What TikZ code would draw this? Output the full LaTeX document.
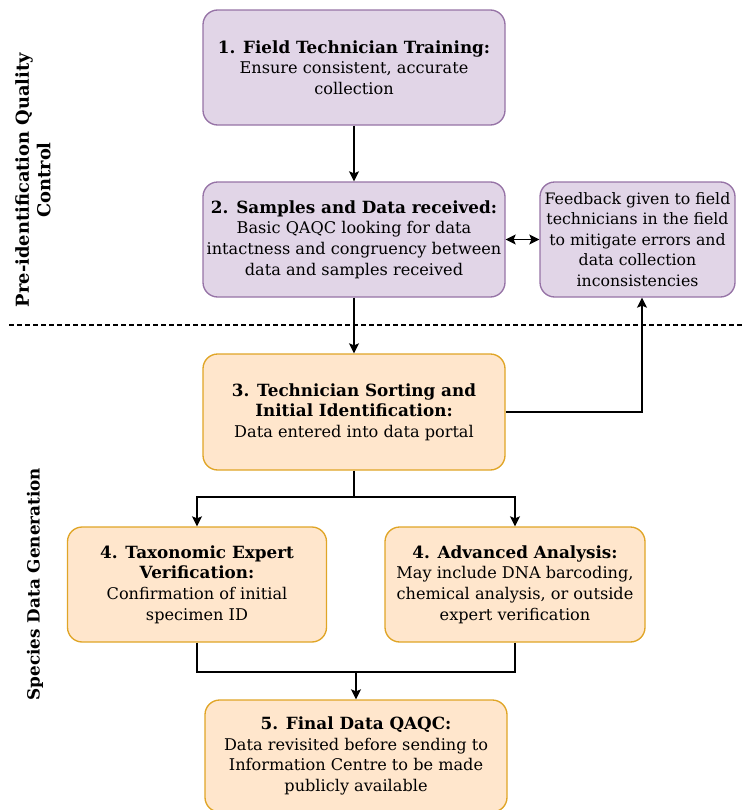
\documentclass[tikz,border=0pt]{standalone}
\usepackage{fontspec}
\setmainfont{DejaVu Serif}
\usetikzlibrary{arrows.meta}
\definecolor{lilacFill}{HTML}{E1D5E7}
\definecolor{lilacLine}{HTML}{9673A6}
\definecolor{peachFill}{HTML}{FFE6CC}
\definecolor{peachLine}{HTML}{E0A526}
\newcommand{\steptitle}[1]{{\fontsize{12.6}{15.4}\selectfont\bfseries #1}}
\begin{document}
\begin{tikzpicture}[x=0.75pt,y=-0.75pt,
  box/.style={draw, rounded corners=11pt, line width=1pt, align=center,
    inner sep=0pt, font=\fontsize{12.1}{15.4}\selectfont},
  lilacbox/.style={box, fill=lilacFill, draw=lilacLine},
  peachbox/.style={box, fill=peachFill, draw=peachLine},
  conn/.style={line width=0.9pt, -{Stealth[length=7.5pt,width=7.5pt,inset=1.5pt]}},
  plain/.style={line width=0.9pt},
  phase/.style={rotate=90, align=center, font=\bfseries}]
\useasboundingbox (0,0) rectangle (744,810);

% Pre-identification stage
\node[lilacbox, minimum width=226.5pt, minimum height=86.25pt] (train) at (354,67.5)
  {\steptitle{1. Field Technician Training:}\\Ensure consistent, accurate\\collection};
\node[lilacbox, minimum width=226.5pt, minimum height=86.25pt] (recv) at (354,239.5)
  {\steptitle{2. Samples and Data received:}\\Basic QAQC looking for data\\intactness and congruency between\\data and samples received};
\node[lilacbox, minimum width=146.25pt, minimum height=86.25pt, font=\fontsize{11.8}{15.4}\selectfont] (feed) at (637.5,239.5)
  {Feedback given to field\\technicians in the field\\to mitigate errors and\\data collection\\inconsistencies};

% Species data stage
\node[peachbox, minimum width=226.5pt, minimum height=87pt] (sort) at (354,412)
  {\steptitle{3. Technician Sorting and}\\\steptitle{Initial Identification:}\\Data entered into data portal};
\node[peachbox, minimum width=194.25pt, minimum height=86.25pt] (taxo) at (197,584.5)
  {\steptitle{4. Taxonomic Expert}\\\steptitle{Verification:}\\Confirmation of initial\\specimen ID};
\node[peachbox, minimum width=195pt, minimum height=86.25pt] (adv) at (515,584.5)
  {\steptitle{4. Advanced Analysis:}\\May include DNA barcoding,\\chemical analysis, or outside\\expert verification};
\node[peachbox, minimum width=226.5pt, minimum height=84pt] (final) at (356,756)
  {\steptitle{5. Final Data QAQC:}\\Data revisited before sending to\\Information Centre to be made\\publicly available};

% Phase labels and divider
\node[phase, font=\fontsize{13.4}{16}\selectfont\bfseries] (lblpre) at (33,180) {Pre-identification Quality\\Control};
\node[phase, font=\fontsize{12.6}{15}\selectfont\bfseries] (lblspec) at (35,584) {Species Data Generation};
\coordinate (divL) at (9,325);
\coordinate (divR) at (744,325);
\draw[line width=0.9pt, dash pattern=on 3.4pt off 2.6pt] (divL) -- (divR);

% Connectors
\draw[conn] (train.south) -- (recv.north);
\draw[plain, {Stealth[length=7.5pt,width=7.5pt,inset=1.5pt]}-{Stealth[length=7.5pt,width=7.5pt,inset=1.5pt]}] (recv.east) -- (feed.west);
\draw[conn] (recv.south) -- (sort.north);
\draw[conn] (sort.east) -| (642,0 |- feed.south);
\coordinate (splitY) at (354,497);
\draw[plain] (sort.south) -- (splitY);
\draw[conn] (splitY) -| (taxo.north);
\draw[conn] (splitY) -| (adv.north);
\coordinate (joinY) at (356,672);
\draw[plain] (taxo.south) |- (joinY);
\draw[plain] (adv.south) |- (joinY);
\draw[conn] (joinY) -- (final.north);
\end{tikzpicture}
\end{document}
